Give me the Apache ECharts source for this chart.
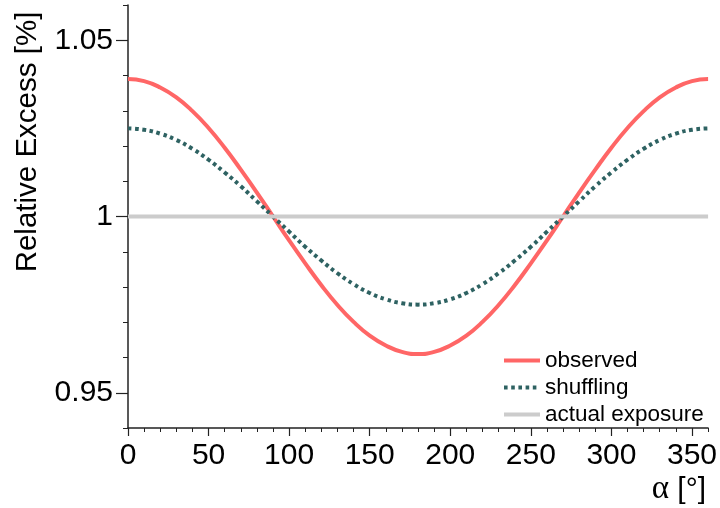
<!DOCTYPE html>
<html>
<head>
<meta charset="utf-8">
<script src="https://cdn.jsdelivr.net/npm/echarts@6/dist/echarts.min.js"></script>
<style>
html,body{margin:0;padding:0;background:#fff;}
#c{width:720px;height:508px;}
</style>
</head>
<body>
<div id="c"></div>
<script>
var angles = [0,10,20,30,40,50,60,70,80,90,100,110,120,130,140,150,160,170,180,
              190,200,210,220,230,240,250,260,270,280,290,300,310,320,330,340,350,360];
var observed = [1.039,1.0384,1.0366,1.0338,1.0299,1.0251,1.0195,1.0133,1.0068,1.000,
                0.9932,0.9867,0.9805,0.9749,0.9701,0.9662,0.9634,0.9616,0.961,
                0.9616,0.9634,0.9662,0.9701,0.9749,0.9805,0.9867,0.9932,1.000,
                1.0068,1.0133,1.0195,1.0251,1.0299,1.0338,1.0366,1.0384,1.039];
var shuffling = [1.025,1.0246,1.0235,1.0217,1.0192,1.0161,1.0125,1.0086,1.0043,1.000,
                 0.9957,0.9914,0.9875,0.9839,0.9808,0.9783,0.9765,0.9754,0.975,
                 0.9754,0.9765,0.9783,0.9808,0.9839,0.9875,0.9914,0.9957,1.000,
                 1.0043,1.0086,1.0125,1.0161,1.0192,1.0217,1.0235,1.0246,1.025];
var exposure = [1,1,1,1,1,1,1,1,1,1,1,1,1,1,1,1,1,1,1,1,1,1,1,1,1,1,1,1,1,1,1,1,1,1,1,1,1];
var seriesNames = ['observed','shuffling','actual exposure'];
var xTickLabels = ['0','','','','','50','','','','','100','','','','','150','','','','','200',
                   '','','','','250','','','','','300','','','','','350',''];
var yTickLabels = ['','0.95','','','','','1','','','','','1.05',''];
var xTitle = 'α [°]';
var yTitle = 'Relative Excess [%]';

function pairs(ys){ return angles.map(function(a,i){ return [a, ys[i]]; }); }

var FONT = 'Liberation Sans, Arial, sans-serif';
var axisCol = '#222';
var chart = echarts.init(document.getElementById('c'));
chart.setOption({
  animation: false,
  backgroundColor: '#fff',
  grid: {left: 128, right: 10, top: 5, bottom: 80, containLabel: false},
  xAxis: [{
    type: 'value', min: 0, max: 360, interval: 10,
    axisLine: {show: true, onZero: false, lineStyle: {color: axisCol, width: 1.5}},
    axisTick: {show: true, length: 4, lineStyle: {color: axisCol, width: 1}},
    axisLabel: {show: false},
    splitLine: {show: false}
  },{
    type: 'category', boundaryGap: false, data: xTickLabels, position: 'bottom',
    axisLine: {show: false},
    axisTick: {show: true, length: 8, interval: function(i){ return i % 5 === 0; }, lineStyle: {color: axisCol, width: 1.2}},
    axisLabel: {show: true, interval: 0, margin: 13, fontSize: 30, color: '#000', fontFamily: FONT},
    splitLine: {show: false}
  }],
  yAxis: [{
    type: 'value', min: 0.94, max: 1.06, interval: 0.01,
    axisLine: {show: true, onZero: false, lineStyle: {color: axisCol, width: 1.5}},
    axisTick: {show: true, length: 5, lineStyle: {color: axisCol, width: 1}},
    axisLabel: {show: false},
    splitLine: {show: false}
  },{
    type: 'category', boundaryGap: false, data: yTickLabels, position: 'left',
    axisLine: {show: false},
    axisTick: {show: true, length: 12, interval: function(i){ return (i % 5) === 1; }, lineStyle: {color: axisCol, width: 1.2}},
    axisLabel: {show: true, interval: 0, margin: 15, fontSize: 30, color: '#000', fontFamily: FONT},
    splitLine: {show: false}
  }],
  legend: {
    orient: 'vertical', left: 497, top: 344,
    itemWidth: 36, itemHeight: 14, itemGap: 4,
    data: seriesNames,
    itemStyle: {opacity: 0},
    lineStyle: {width: 4},
    textStyle: {fontSize: 22.5, color: '#000', fontFamily: FONT}
  },
  title: {
    text: '{a|α} [°]', right: 9, top: 468,
    textStyle: {fontSize: 30, fontWeight: 'normal', color: '#000', fontFamily: FONT,
      rich: {a: {fontSize: 33, fontFamily: 'Liberation Serif, Times New Roman, serif', color: '#000'}}}
  },
  graphic: [{
    type: 'text', x: 28, y: 142, rotation: Math.PI/2,
    style: {text: yTitle, fontSize: 29.5, fontFamily: FONT, fill: '#000', align: 'center', verticalAlign: 'middle'}
  }],
  series: [{
    name: seriesNames[0], type: 'line', data: pairs(observed), smooth: true, symbol: 'none',
    xAxisIndex: 0, yAxisIndex: 0,
    lineStyle: {color: '#FF6666', width: 4}, itemStyle: {color: '#FF6666'}
  },{
    name: seriesNames[1], type: 'line', data: pairs(shuffling), smooth: true, symbol: 'none',
    xAxisIndex: 0, yAxisIndex: 0,
    lineStyle: {color: '#2E6262', width: 4, type: [3.6, 3.6], cap: 'butt'}, itemStyle: {color: '#2E6262'}
  },{
    name: seriesNames[2], type: 'line', data: pairs(exposure), symbol: 'none',
    xAxisIndex: 0, yAxisIndex: 0,
    lineStyle: {color: '#CCCCCC', width: 4}, itemStyle: {color: '#CCCCCC'}
  }]
});
</script>
</body>
</html>
